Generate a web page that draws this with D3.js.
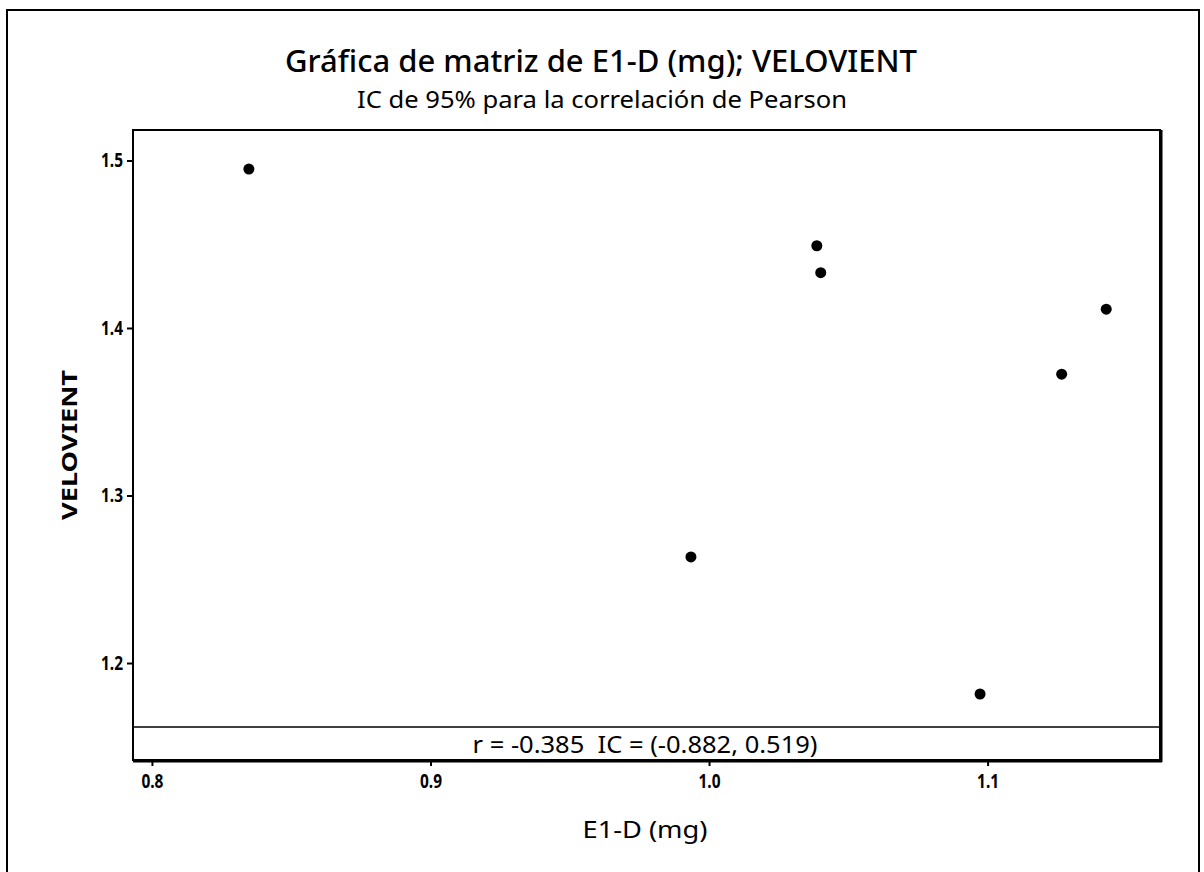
<!DOCTYPE html>
<html>
<head>
<meta charset="utf-8">
<script src="https://cdn.jsdelivr.net/npm/d3@7"></script>
<style>
  body { margin: 0; background: #fff; }
  svg { display: block; font-family: 'Noto Sans', 'Open Sans', sans-serif; }
  .tick text { font-size: 19px; font-weight: bold; font-family: 'Noto Sans', sans-serif; }
</style>
</head>
<body>
<script>
// data
const e1d = [0.8348, 1.0387, 1.0401, 1.1426, 1.1266, 0.9935, 1.0973]
const velovient = [1.4949, 1.4491, 1.4330, 1.4112, 1.3724, 1.2633, 1.1815]
const xTicks = [0.8, 0.9, 1.0, 1.1]
const yTicks = [1.2, 1.3, 1.4, 1.5]
const corrText = 'r = -0.385  IC = (-0.882, 0.519)'

const width = 1204
const height = 872
const plotLeft = 133
const plotRight = 1160
const plotTop = 130
const plotBottom = 760

const svg = d3.select('body').append('svg')
  .attr('width', width)
  .attr('height', height)

// outer frame
svg.append('rect')
  .attr('x', 7).attr('y', 10)
  .attr('width', 1192).attr('height', 880)
  .attr('fill', 'none')
  .attr('stroke', '#000')
  .attr('stroke-width', 2)

const x = d3.scaleLinear().domain([0.7932, 1.1619]).range([plotLeft, plotRight])
const y = d3.scaleLinear().domain([1.1421, 1.5182]).range([plotBottom, plotTop])

// squeeze text into the width seen in the reference
const fit = (sel, len) => sel.attr('textLength', len).attr('lengthAdjust', 'spacingAndGlyphs')

// title
svg.append('text')
  .attr('x', 601).attr('y', 72)
  .attr('text-anchor', 'middle')
  .attr('font-size', 31)
  .attr('font-weight', 500)
  .text('Gráfica de matriz de E1-D (mg); VELOVIENT')
  .call(fit, 632)

svg.append('text')
  .attr('x', 602).attr('y', 108)
  .attr('text-anchor', 'middle')
  .attr('font-size', 23)
  .text('IC de 95% para la correlación de Pearson')
  .call(fit, 490)

// plot box
svg.append('rect')
  .attr('x', plotLeft).attr('y', plotTop)
  .attr('width', plotRight - plotLeft).attr('height', plotBottom - plotTop)
  .attr('fill', 'none')
  .attr('stroke', '#000')
  .attr('stroke-width', 2)
svg.append('line')
  .attr('x1', plotRight + 1).attr('x2', plotRight + 1)
  .attr('y1', plotTop).attr('y2', plotBottom + 2)
  .attr('stroke', '#000').attr('stroke-width', 3)
svg.append('line')
  .attr('x1', plotLeft).attr('x2', plotRight + 2)
  .attr('y1', plotBottom + 1).attr('y2', plotBottom + 1)
  .attr('stroke', '#000').attr('stroke-width', 3)

// correlation band
svg.append('line')
  .attr('x1', plotLeft).attr('x2', plotRight)
  .attr('y1', 727).attr('y2', 727)
  .attr('stroke', '#000').attr('stroke-width', 1.5)
svg.append('text')
  .attr('x', 645).attr('y', 753)
  .attr('text-anchor', 'middle')
  .attr('font-size', 23)
  .style('white-space', 'pre')
  .text(corrText)
  .call(fit, 345)

// axes
const xAxis = svg.append('g')
  .attr('transform', `translate(0,${plotBottom + 1})`)
  .call(d3.axisBottom(x).tickValues(xTicks).tickFormat(d3.format('.1f')).tickSize(5).tickPadding(9))
xAxis.select('.domain').remove()
xAxis.selectAll('text').call(fit, 22)
xAxis.selectAll('line').attr('stroke-width', 2)

const yAxis = svg.append('g')
  .attr('transform', `translate(${plotLeft},0)`)
  .call(d3.axisLeft(y).tickValues(yTicks).tickFormat(d3.format('.1f')).tickSize(6).tickPadding(4))
yAxis.select('.domain').remove()
yAxis.selectAll('text').call(fit, 22)
yAxis.selectAll('line').attr('stroke-width', 2)

// axis titles
svg.append('text')
  .attr('x', 645).attr('y', 838)
  .attr('text-anchor', 'middle')
  .attr('font-size', 23)
  .text('E1-D (mg)')
  .call(fit, 125)

svg.append('text')
  .attr('transform', 'translate(77,445) rotate(-90)')
  .attr('text-anchor', 'middle')
  .attr('font-size', 22)
  .attr('font-weight', 'bold')
  .text('VELOVIENT')
  .call(fit, 150)

// points
svg.append('g')
  .selectAll('circle')
  .data(e1d)
  .enter()
  .append('circle')
  .attr('cx', (d) => x(d))
  .attr('cy', (d, i) => y(velovient[i]))
  .attr('r', 5.5)
  .attr('fill', '#000')
</script>
</body>
</html>
